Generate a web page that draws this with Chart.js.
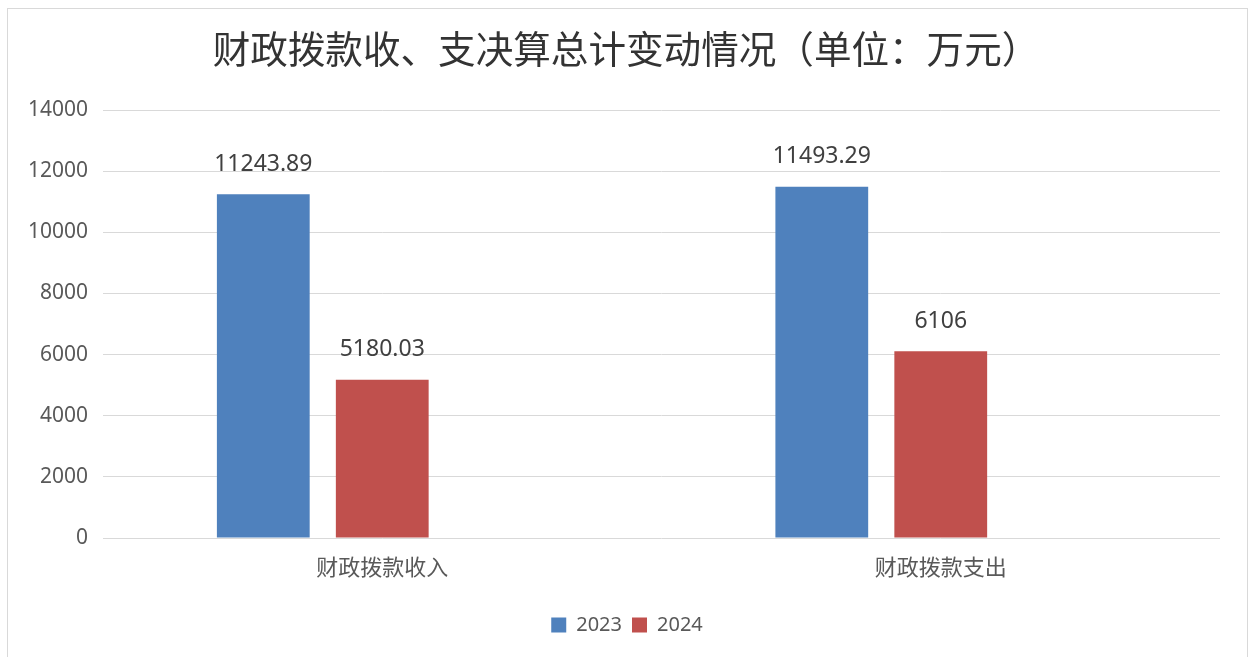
<!DOCTYPE html>
<html>
<head>
<meta charset="utf-8">
<script src="https://cdn.jsdelivr.net/npm/chart.js@4.4.1/dist/chart.umd.min.js"></script>
<style>
  html, body { margin: 0; padding: 0; background: #fff; overflow: hidden; }
  #box {
    position: absolute; left: 7px; top: 8px;
    width: 1239px; height: 660px;
    border: 1px solid #d9d9d9;
  }
  #wrap { position: absolute; left: 0; top: 0; width: 1239px; height: 649px; }
  #title {
    position: absolute; left: 0; top: 15px; width: 1236px;
    text-align: center;
    font: 37.6px/46px "Noto Sans CJK SC", sans-serif;
    color: #333;
    white-space: nowrap;
  }
</style>
</head>
<body>
<div id="box">
  <div id="wrap"><canvas id="chart"></canvas></div>
  <div id="title"></div>
</div>
<script>
// 데이터
const titleText = '财政拨款收、支决算总计变动情况（单位：万元）';
const categories = ['财政拨款收入', '财政拨款支出'];
const seriesNames = ['2023', '2024'];
const values2023 = [11243.89, 11493.29];
const values2024 = [5180.03, 6106];
const yTicks = [0, 2000, 4000, 6000, 8000, 10000, 12000, 14000];

const fontFamily = '"Noto Sans", "Noto Sans CJK SC", sans-serif';

document.getElementById('title').textContent = titleText;

// 막대 위 값 표시
const valueLabels = {
  id: 'valueLabels',
  afterDatasetsDraw(chart) {
    const ctx = chart.ctx;
    ctx.save();
    ctx.font = '23px ' + fontFamily;
    ctx.fillStyle = '#404040';
    ctx.textAlign = 'center';
    ctx.textBaseline = 'middle';
    chart.data.datasets.forEach((ds, i) => {
      chart.getDatasetMeta(i).data.forEach((bar, j) => {
        if (ds.data[j] == null) return;
        ctx.fillText(String(ds.data[j]), bar.x, bar.y - 30);
      });
    });
    ctx.restore();
  }
};

// 범례를 오른쪽으로 조금 이동
const legendShift = {
  id: 'legendShift',
  afterLayout(chart) {
    chart.legend.left += 13;
    chart.legend.right += 13;
  }
};

const ctx = document.getElementById('chart').getContext('2d');
new Chart(ctx, {
  type: 'bar',
  data: {
    labels: categories,
    datasets: [
      { label: seriesNames[0], data: values2023, backgroundColor: '#4F81BD' },
      { label: seriesNames[1], data: values2024, backgroundColor: '#C0504D' },
      // 원본 그래프의 빈 세 번째 계열 자리
      { label: '', data: [null, null], backgroundColor: 'rgba(0,0,0,0)' }
    ]
  },
  options: {
    responsive: true,
    maintainAspectRatio: false,
    animation: false,
    categoryPercentage: 0.639,
    barPercentage: 0.78,
    layout: { padding: { left: 0, right: 27, top: 101, bottom: 13 } },
    plugins: {
      legend: {
        position: 'bottom',
        labels: {
          boxWidth: 15,
          boxHeight: 15,
          color: '#595959',
          font: { family: fontFamily, size: 20 },
          padding: 10,
          filter: (item) => item.text !== ''
        }
      },
      tooltip: { enabled: false }
    },
    scales: {
      x: {
        grid: { display: false },
        border: { display: false },
        ticks: {
          color: '#595959',
          font: { family: fontFamily, size: 22 },
          padding: 10
        },
        afterFit(scale) { scale.height = 67; }
      },
      y: {
        min: yTicks[0],
        max: yTicks[yTicks.length - 1],
        afterBuildTicks(scale) { scale.ticks = yTicks.map(v => ({ value: v })); },
        grid: { color: '#d9d9d9', lineWidth: 1, drawTicks: false },
        border: { display: false },
        ticks: {
          color: '#595959',
          font: { family: fontFamily, size: 21 },
          padding: 15,
          callback: (v) => String(v)
        },
        afterFit(scale) { scale.width = 95; }
      }
    }
  },
  plugins: [valueLabels, legendShift]
});
</script>
</body>
</html>
